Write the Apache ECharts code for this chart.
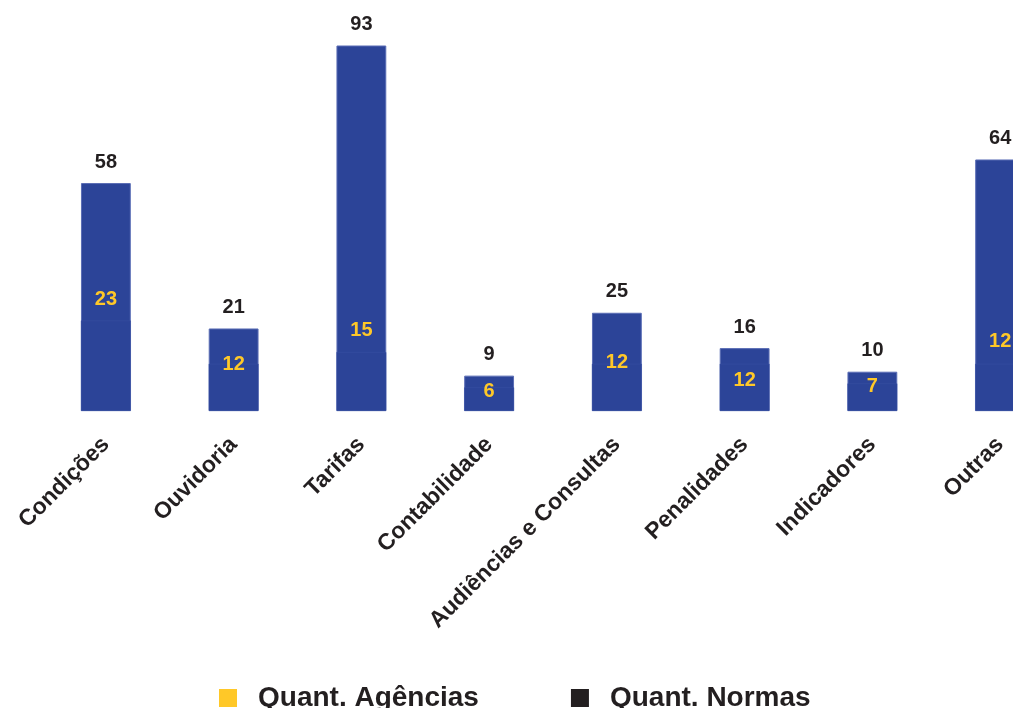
<!DOCTYPE html>
<html>
<head>
<meta charset="utf-8">
<script src="https://cdn.jsdelivr.net/npm/echarts@6/dist/echarts.min.js"></script>
<style>
  html, body { margin: 0; padding: 0; background: #fff; }
  #chart { width: 1013px; height: 708px; }
</style>
</head>
<body>
<div id="chart"></div>
<script>
var categories = ["Condições", "Ouvidoria", "Tarifas", "Contabilidade", "Audiências e Consultas", "Penalidades", "Indicadores", "Outras"];
var normas = [58, 21, 93, 9, 25, 16, 10, 64];
var agencias = [23, 12, 15, 6, 12, 12, 7, 12];

// vertical nudges for the yellow labels, as placed in the original
var agLabelDy = [-21, 1, -22, 4, -1, 17, 3, -22];

var blue = "#2C4498";
var yellow = "#FFC828";
var font = "'Liberation Sans', Arial, sans-serif";

var chart = echarts.init(document.getElementById("chart"));

var option = {
  animation: false,
  grid: {
    left: 42,
    width: 1022,
    top: 18,
    bottom: 297,
    containLabel: false,
    outerBoundsMode: "none"
  },
  legend: {
    top: 679,
    left: 214,
    itemWidth: 18,
    itemHeight: 18,
    itemGap: 92,
    icon: "rect",
    textStyle: {
      fontFamily: font,
      fontWeight: "bold",
      fontSize: 28,
      color: "#231F20",
      padding: [0, 0, 0, 16]
    },
    data: [
      { name: "Quant. Agências", itemStyle: { color: yellow, borderWidth: 0 } },
      { name: "Quant. Normas", itemStyle: { color: "#231F20", borderWidth: 0 } }
    ]
  },
  xAxis: {
    type: "category",
    data: categories,
    axisLine: { show: false },
    axisTick: { show: false },
    axisLabel: {
      interval: 0,
      rotate: 45,
      margin: 30,
      fontFamily: font,
      fontWeight: "bold",
      fontSize: 23,
      color: "#231F20"
    }
  },
  yAxis: {
    type: "value",
    min: 0,
    max: 100,
    show: false,
    splitLine: { show: false }
  },
  series: [
    {
      name: "Quant. Normas",
      type: "bar",
      barWidth: "39%",
      barGap: "-100%",
      data: normas,
      itemStyle: { color: blue, borderColor: "#5a6db5", borderWidth: 1 },
      label: {
        show: true,
        position: "top",
        distance: 11,
        fontFamily: font,
        fontWeight: "bold",
        fontSize: 20,
        color: "#231F20"
      }
    },
    {
      name: "Quant. Agências",
      type: "bar",
      barWidth: "39%",
      barGap: "-100%",
      z: 3,
      data: agencias.map(function (v, i) {
        return {
          value: v,
          label: { offset: [0, agLabelDy[i]] }
        };
      }),
      itemStyle: { color: blue, borderColor: "#3a52a4", borderWidth: 0.5 },
      label: {
        show: true,
        position: "insideTop",
        distance: 0,
        verticalAlign: "middle",
        fontFamily: font,
        fontWeight: "bold",
        fontSize: 20,
        color: yellow
      }
    }
  ]
};

chart.setOption(option);
</script>
</body>
</html>
